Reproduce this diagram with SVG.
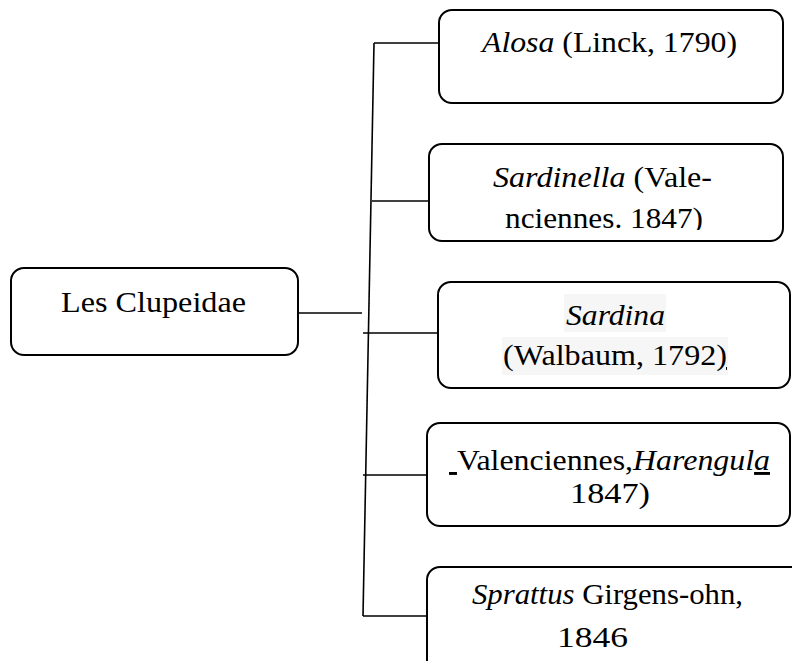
<svg xmlns="http://www.w3.org/2000/svg" width="792" height="661" viewBox="0 0 792 661">
<style>
.box{fill:#fff;stroke:#000;stroke-width:2}
.ln{stroke:#000;stroke-width:1.6;fill:none}
.t{font-family:'Liberation Serif',serif;font-size:29px;fill:#000}
.i{font-style:italic}
.u{text-decoration:underline}
</style>
<defs>
<clipPath id="c2"><rect x="0" y="0" width="792" height="230"/></clipPath>
</defs>
<rect width="792" height="661" fill="#fff"/>
<g id="connectors">
<line class="ln" x1="374" y1="43" x2="363" y2="616"/>
<line class="ln" x1="374" y1="43" x2="439" y2="43"/>
<line class="ln" x1="372" y1="201" x2="429" y2="201"/>
<line class="ln" x1="298" y1="313" x2="362" y2="313"/>
<line class="ln" x1="363" y1="333" x2="438" y2="333"/>
<line class="ln" x1="363" y1="475" x2="427" y2="475"/>
<line class="ln" x1="363" y1="616" x2="427" y2="616"/>
</g>
<g id="root">
<rect class="box" x="11" y="268" width="287" height="87" rx="13"/>
<text class="t" x="61" y="312" textLength="185" lengthAdjust="spacingAndGlyphs">Les Clupeidae</text>
</g>
<g id="alosa">
<rect class="box" x="439" y="10" width="344" height="93" rx="13"/>
<text class="t" x="482" y="52" textLength="255" lengthAdjust="spacingAndGlyphs"><tspan class="i">Alosa</tspan> (Linck, 1790)</text>
</g>
<g id="sardinella">
<rect class="box" x="429" y="144" width="354" height="97" rx="13"/>
<text class="t" x="493" y="187" textLength="219" lengthAdjust="spacingAndGlyphs"><tspan class="i">Sardinella</tspan> (Vale-</text>
<text class="t" x="505" y="228" textLength="198" lengthAdjust="spacingAndGlyphs" clip-path="url(#c2)">nciennes. 1847)</text>
</g>
<g id="sardina">
<rect class="box" x="438" y="282" width="352" height="106" rx="13"/>
<rect x="564" y="294" width="102" height="38" fill="#f6f6f6"/>
<rect x="502" y="337" width="226" height="38" fill="#f6f6f6"/>
<text class="t i" x="566" y="325" textLength="99" lengthAdjust="spacingAndGlyphs">Sardina</text>
<text class="t" x="503" y="365" textLength="224" lengthAdjust="spacingAndGlyphs">(Walbaum, 1792<tspan class="u">)</tspan></text>
</g>
<g id="harengula">
<rect class="box" x="427" y="423" width="363" height="103" rx="13"/>
<text class="t" x="449" y="470" textLength="321" lengthAdjust="spacingAndGlyphs"><tspan class="u">&#160;</tspan>Valenciennes,<tspan class="i">Harengul</tspan><tspan class="i u">a</tspan></text>
<text class="t" x="570" y="503" textLength="80" lengthAdjust="spacingAndGlyphs">1847)</text>
</g>
<g id="sprattus">
<rect class="box" x="427" y="567" width="400" height="120" rx="13"/>
<text class="t" x="472" y="604" textLength="271" lengthAdjust="spacingAndGlyphs"><tspan class="i">Sprattus</tspan> Girgens-ohn,</text>
<text class="t" x="557" y="647" textLength="71" lengthAdjust="spacingAndGlyphs">1846</text>
</g>
</svg>
